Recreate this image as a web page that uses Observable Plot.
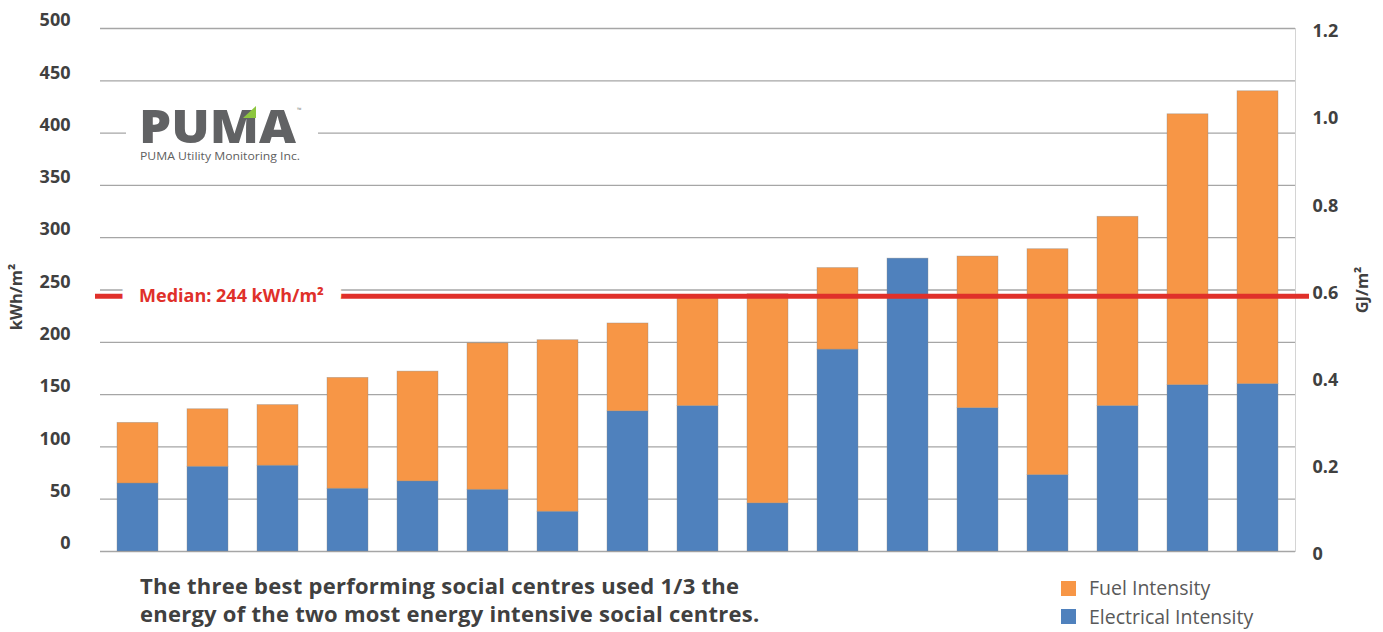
<!DOCTYPE html>
<html>
<head>
<meta charset="utf-8">
<script src="https://cdn.jsdelivr.net/npm/d3@7"></script>
<script src="https://cdn.jsdelivr.net/npm/@observablehq/plot@0.6"></script>
<style>
  html, body { margin: 0; padding: 0; background: #fff; }
  body { font-family: "Open Sans", sans-serif; }
  #wrap { position: relative; width: 1383px; height: 632px; overflow: hidden; }
  #logo { position: absolute; left: 0; top: 0; }
  #bottom { position: absolute; left: 0; top: 570px; width: 1383px; height: 62px; }
  #caption { position: absolute; left: 140px; top: 1px; font-weight: 700; font-size: 22px; letter-spacing: 0.25px; line-height: 28px; color: #404040; white-space: nowrap; }
  #legend { position: absolute; left: 1061px; top: 4px; font-size: 19.5px; line-height: 28.5px; color: #595959; }
  .li { display: flex; align-items: center; }
  .sw { width: 15px; height: 15px; margin-right: 13px; }
</style>
</head>
<body>
<div id="wrap">
  <div id="chart"></div>
  <svg id="logo" width="400" height="200">
    <rect x="126" y="100" width="192" height="66" fill="#fff"></rect>
    <text x="139" y="143" font-family="Open Sans" font-weight="800" font-size="46" fill="#616264" textLength="157" lengthAdjust="spacingAndGlyphs">PUMA</text>
    <polygon points="243,118 256,106 256,118" fill="#8DC63F"></polygon>
    <text x="297" y="112" font-family="Open Sans" font-size="6" fill="#888">™</text>
    <text x="140" y="160" font-family="Open Sans" font-size="10" fill="#606060" textLength="160" lengthAdjust="spacingAndGlyphs">PUMA Utility Monitoring Inc.</text>
  </svg>
  <div id="bottom">
    <div id="caption">The three best performing social centres used 1/3 the<br>energy of the two most energy intensive social centres.</div>
    <div id="legend"></div>
  </div>
</div>
<script>
// ---- data ----
const centres = ["C1","C2","C3","C4","C5","C6","C7","C8","C9","C10","C11","C12","C13","C14","C15","C16","C17"];
const electrical = [65, 81, 82, 60, 67, 59, 38, 134, 139, 46, 193, 280, 137, 73, 139, 159, 160];
const fuel = [58, 55, 58, 106, 105, 140, 164, 84, 104, 200, 78, 0, 145, 216, 181, 259, 280];
const seriesNames = ["Electrical Intensity", "Fuel Intensity"];
const seriesColors = ["#4F81BD", "#F79646"];
const legendOrder = ["Fuel Intensity", "Electrical Intensity"];
const kwhTicks = [0, 50, 100, 150, 200, 250, 300, 350, 400, 450, 500];
const gjTicks = [0, 0.2, 0.4, 0.6, 0.8, 1.0, 1.2];
const median = 244;
const leftLabel = "kWh/m²";
const rightLabel = "GJ/m²";

const rows = centres.flatMap((c, i) => [
  {centre: c, type: seriesNames[0], value: electrical[i]},
  {centre: c, type: seriesNames[1], value: fuel[i]}
]);
const kwhMax = kwhTicks[kwhTicks.length - 1];
const gjMax = gjTicks[gjTicks.length - 1];

const chart = Plot.plot({
  width: 1383,
  height: 570,
  marginTop: 28,
  marginBottom: 19,
  marginLeft: 100,
  marginRight: 88,
  style: {fontFamily: "Open Sans", background: "transparent"},
  x: {domain: centres, paddingInner: 0.42, paddingOuter: 0.23, axis: null},
  y: {domain: [0, kwhMax], axis: null},
  color: {domain: seriesNames, range: seriesColors},
  marks: [
    Plot.gridY(kwhTicks, {stroke: "#a6a6a6", strokeOpacity: 1, strokeWidth: 1.3}),
    Plot.frame({anchor: "right", stroke: "#d4d4d4"}),
    Plot.barY(rows, {x: "centre", y: "value", fill: "type", stroke: "#8a8a8a", strokeWidth: 0.7, strokeOpacity: 0.5}),
    Plot.ruleY([median], {stroke: "#E0302A", strokeWidth: 5, insetLeft: -5, insetRight: -14}),
    Plot.text([median], {
      y: d => d, frameAnchor: "left", dx: 131, text: d => `Median: ${d} kWh/m²`,
      fill: "#E0302A", stroke: "white", strokeWidth: 36, strokeLinejoin: "round", paintOrder: "stroke",
      fontWeight: "bold", fontSize: 18, lineAnchor: "middle", textAnchor: "middle"
    }),
    Plot.text(kwhTicks, {
      y: d => d, frameAnchor: "left", dx: -30, dy: -8, textAnchor: "end", lineAnchor: "middle",
      text: d => String(d), fill: "#404040", fontWeight: "bold", fontSize: 18
    }),
    Plot.text(gjTicks, {
      y: d => d / gjMax * kwhMax, frameAnchor: "right", dx: 17, dy: 3, textAnchor: "start", lineAnchor: "middle",
      text: d => d === 0 ? "0" : d.toFixed(1), fill: "#404040", fontWeight: "bold", fontSize: 18
    }),
    Plot.text([leftLabel], {
      frameAnchor: "left", dx: -84, dy: 7, rotate: -90, text: d => d, textAnchor: "middle", lineAnchor: "middle",
      fill: "#404040", fontWeight: "bold", fontSize: 16.5
    }),
    Plot.text([rightLabel], {
      frameAnchor: "right", dx: 67, dy: 0, rotate: -90, text: d => d, textAnchor: "middle", lineAnchor: "middle",
      fill: "#404040", fontWeight: "bold", fontSize: 16.5
    })
  ]
});
document.getElementById("chart").appendChild(chart);

const legend = document.getElementById("legend");
legendOrder.forEach(name => {
  const row = document.createElement("div");
  row.className = "li";
  const sw = document.createElement("div");
  sw.className = "sw";
  sw.style.background = seriesColors[seriesNames.indexOf(name)];
  const t = document.createElement("span");
  t.textContent = name;
  row.appendChild(sw);
  row.appendChild(t);
  legend.appendChild(row);
});
</script>
</body>
</html>
